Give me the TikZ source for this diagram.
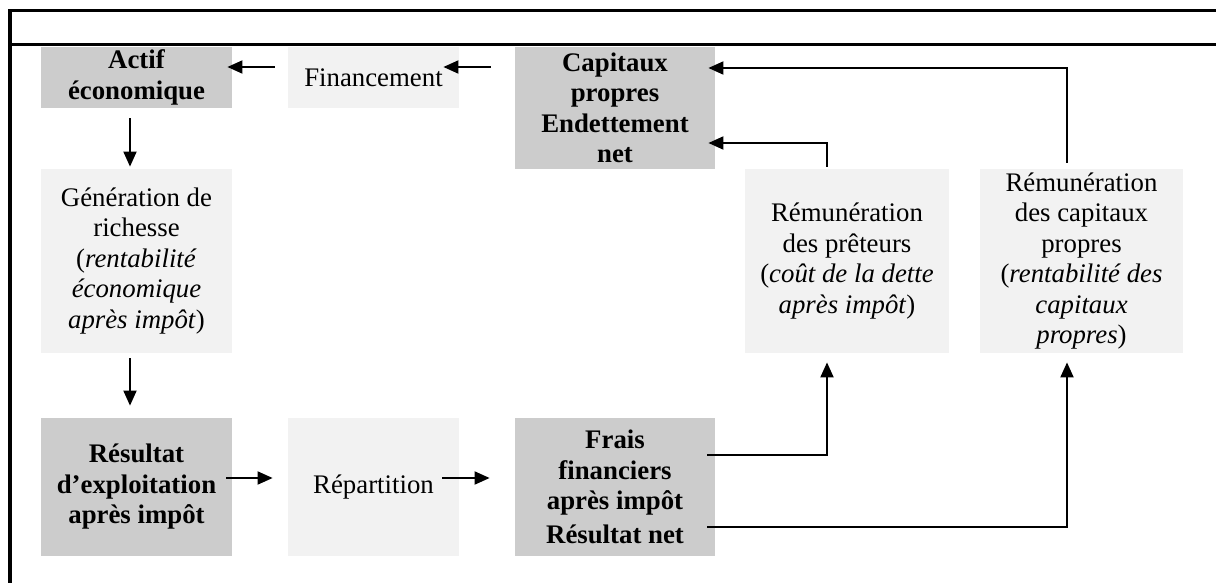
\documentclass[tikz,border=0pt]{standalone}
\usepackage{fontspec}
\setmainfont{Liberation Serif}
\usetikzlibrary{arrows.meta,calc}
\definecolor{dkbox}{HTML}{CCCCCC}
\definecolor{ltbox}{HTML}{F2F2F2}
\begin{document}
\begin{tikzpicture}[x=0.5pt,y=-0.5pt,
  every node/.style={font=\fontsize{13.4pt}{15.25pt}\selectfont, inner sep=0pt, align=center},
  dk/.style={fill=dkbox, font=\fontsize{13.4pt}{15.25pt}\selectfont\bfseries},
  lt/.style={fill=ltbox},
  frameline/.style={line width=1.75pt},
  arr/.style={line width=0.95pt, -{Triangle[length=7.5pt,width=6.5pt]}}]
\useasboundingbox (0,0) rectangle (1216,583);
% frame
\draw[frameline] (10,583) -- (10,10.5) -- (1216,10.5);
\draw[frameline] (10,44.5) -- (1216,44.5);
% boxes
\node[dk, minimum width=95.5pt, minimum height=30.5pt] (act) at (136.5,77.5) {Actif\\économique};
\node[lt, minimum width=85.5pt, minimum height=30.5pt] (fin) at (373.5,77.5) {Financement};
\node[dk, minimum width=100pt, minimum height=61pt] (cap) at (615,108) {Capitaux\\propres\\Endettement\\net};
\node[lt, minimum width=95.5pt, minimum height=92pt] (gen) at (136.5,261) {Génération de\\richesse\\(\textit{rentabilité}\\\textit{économique}\\\textit{après impôt})};
\node[lt, minimum width=102pt, minimum height=92pt] (rp) at (847,261) {Rémunération\\des prêteurs\\(\textit{coût de la dette}\\\textit{après impôt})};
\node[lt, minimum width=101.5pt, minimum height=92pt] (rc) at (1081.5,261) {Rémunération\\des capitaux\\propres\\(\textit{rentabilité des}\\\textit{capitaux}\\\textit{propres})};
\node[dk, minimum width=95.5pt, minimum height=69pt] (res) at (136.5,487) {Résultat\\d’exploitation\\après impôt};
\node[lt, minimum width=85.5pt, minimum height=69pt] (rep) at (373.5,487) {Répartition};
\node[dk, minimum width=100pt, minimum height=69pt] (fra) at (615,487) {Frais\\financiers\\après impôt\\[1.5pt]Résultat net};
% connectors
\draw[arr] ([xshift=-6.5pt,yshift=5.25pt]fin.west) -- ([xshift=-2.5pt,yshift=5.25pt]act.east);
\draw[arr] ([xshift=-12pt,yshift=20.5pt]cap.west) -- ([xshift=-8pt,yshift=5.25pt]fin.east);
\draw[arr] ([xshift=-3.25pt,yshift=-5pt]act.south) -- ([xshift=-3.25pt,yshift=1pt]gen.north);
\draw[arr] ([xshift=-3.25pt,yshift=-2.5pt]gen.south) -- ([xshift=-3.25pt,yshift=6pt]res.north);
\draw[arr] ([xshift=-3pt,yshift=4.5pt]res.east) -- ([xshift=-7.5pt,yshift=4.5pt]rep.west);
\draw[arr] ([xshift=-8.5pt,yshift=4.5pt]rep.east) -- ([xshift=-12.5pt,yshift=4.5pt]fra.west);
\draw[arr] ([xshift=-4pt,yshift=16pt]fra.east) -| ([xshift=-10pt,yshift=-4.5pt]rp.south);
\draw[arr] ([xshift=-4pt,yshift=-20pt]fra.east) -| ([xshift=-7.25pt,yshift=-4.5pt]rc.south);
\draw[arr] ([xshift=-10pt,yshift=1pt]rp.north) |- ([xshift=-3.5pt,yshift=-17.5pt]cap.east);
\draw[arr] ([xshift=-7.25pt,yshift=3pt]rc.north) |- ([xshift=-3.5pt,yshift=20pt]cap.east);
\end{tikzpicture}
\end{document}
